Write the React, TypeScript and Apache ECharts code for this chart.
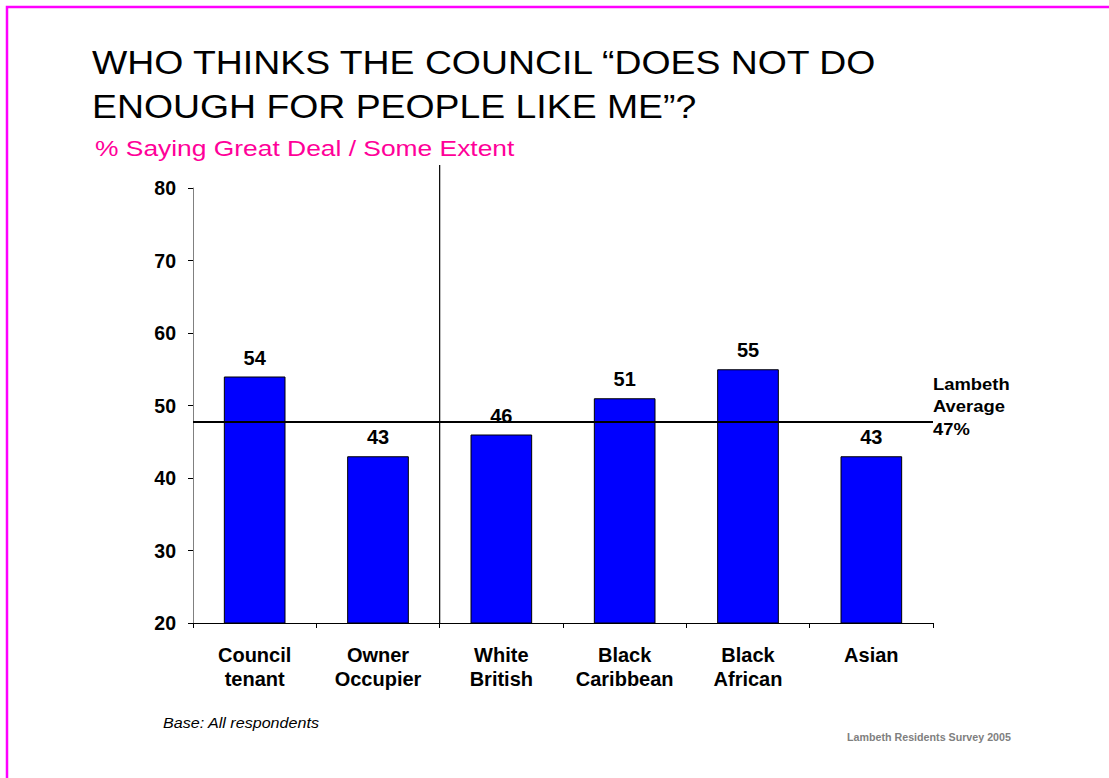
import React, { useEffect, useRef } from "react";
import * as echarts from "echarts";

const categories = ["Council\ntenant", "Owner\nOccupier", "White\nBritish", "Black\nCaribbean", "Black\nAfrican", "Asian"];
const values = [54, 43, 46, 51, 55, 43];
const averageLevel = [47.7];
const yTicks = { min: 20, max: 80, interval: 10 };
const titleLines = ["WHO THINKS THE COUNCIL \u201CDOES NOT DO", "ENOUGH FOR PEOPLE LIKE ME\u201D?"];
const subtitle = "% Saying Great Deal / Some Extent";
const averageLabel = "Lambeth\nAverage\n47%";
const baseNote = "Base: All respondents";
const sourceNote = "Lambeth Residents Survey 2005";

const FONT = "Arial, 'Liberation Sans', sans-serif";

export default function App() {
  const ref = useRef<HTMLDivElement>(null);
  useEffect(() => {
    if (!ref.current) return;
    const chart = echarts.init(ref.current, null, { renderer: "svg" });
    const option: any = {
      animation: false,
      backgroundColor: "#fff",
      textStyle: { fontFamily: FONT },
      grid: { left: 193, right: 176, top: 188, bottom: 155 },
      xAxis: {
        type: "category",
        data: categories,
        axisLine: { lineStyle: { color: "#000", width: 1 } },
        axisTick: { show: true, length: 5, lineStyle: { color: "#000" } },
        axisLabel: {
          color: "#000",
          fontWeight: "bold",
          fontSize: 20,
          fontFamily: FONT,
          lineHeight: 24,
          margin: 20,
          interval: 0,
        },
      },
      yAxis: {
        type: "value",
        min: yTicks.min,
        max: yTicks.max,
        interval: yTicks.interval,
        axisLine: { show: true, lineStyle: { color: "#808080", width: 1 } },
        axisTick: { show: true, length: 5, lineStyle: { color: "#000" } },
        splitLine: { show: false },
        axisLabel: {
          color: "#000",
          fontWeight: "bold",
          fontSize: 19.5,
          fontFamily: FONT,
          margin: 17,
        },
      },
      series: [
        {
          type: "bar",
          data: values,
          barWidth: "50%",
          itemStyle: { color: "#0000FF", borderColor: "#000", borderWidth: 1 },
          label: {
            show: true,
            position: "top",
            distance: 9,
            color: "#000",
            fontWeight: "bold",
            fontSize: 20,
            fontFamily: FONT,
          },
          markLine: {
            silent: true,
            symbol: "none",
            label: { show: false },
            lineStyle: { color: "#000", width: 2, type: "solid" },
            data: averageLevel.map((v) => ({ yAxis: v })),
          },
        },
      ],
    };
    chart.setOption(option);

    const x1 = chart.convertToPixel({ xAxisIndex: 0 }, 1) as number;
    const x2 = chart.convertToPixel({ xAxisIndex: 0 }, 2) as number;
    const dividerX = (x1 + x2) / 2;
    const yBottom = chart.convertToPixel({ yAxisIndex: 0 }, yTicks.min) as number;
    const yTop = chart.convertToPixel({ yAxisIndex: 0 }, yTicks.max) as number;
    const avgY = chart.convertToPixel({ yAxisIndex: 0 }, averageLevel[0]) as number;

    chart.setOption({
      graphic: [
        {
          type: "rect",
          shape: { x: 7, y: 7, width: 1112, height: 790 },
          style: { fill: "none", stroke: "#FF00FF", lineWidth: 2.5 },
          silent: true,
        },
        {
          type: "line",
          shape: { x1: dividerX, y1: yTop - 23, x2: dividerX, y2: yBottom },
          style: { stroke: "#000", lineWidth: 1.2 },
          silent: true,
        },
        {
          type: "text",
          x: 92,
          y: 40,
          scaleX: 1.15,
          style: {
            text: titleLines.join("\n"),
            font: `32.5px ${FONT}`,
            lineHeight: 44,
            fill: "#000",
          },
        },
        {
          type: "text",
          x: 95,
          y: 137,
          scaleX: 1.2,
          style: { text: subtitle, font: `22px ${FONT}`, fill: "#FF0099" },
        },
        {
          type: "text",
          x: 933,
          y: avgY - 49,
          scaleX: 1.15,
          style: {
            text: averageLabel,
            font: `bold 16px ${FONT}`,
            lineHeight: 22.5,
            fill: "#000",
          },
        },
        {
          type: "text",
          x: 163,
          y: 716,
          scaleX: 1.15,
          style: { text: baseNote, font: `italic 14px ${FONT}`, fill: "#000" },
        },
        {
          type: "text",
          x: 847,
          y: 733,
          scaleX: 1.07,
          style: { text: sourceNote, font: `bold 10px ${FONT}`, fill: "#808080" },
        },
      ],
    });

    return () => chart.dispose();
  }, []);
  return (
    <div
      ref={ref}
      style={{ position: "fixed", left: 0, top: 0, width: 1109, height: 778 }}
    />
  );
}
